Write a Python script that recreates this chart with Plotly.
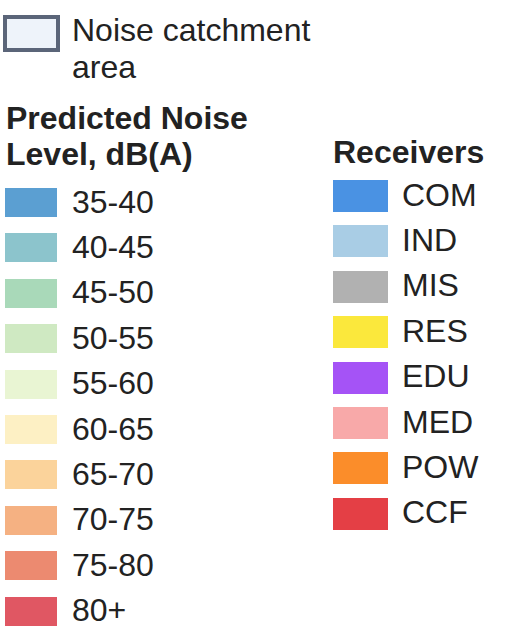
import plotly.graph_objects as go

# ---- data ----
noise_labels = ["35-40", "40-45", "45-50", "50-55", "55-60",
                "60-65", "65-70", "70-75", "75-80", "80+"]
noise_colors = ["#5b9fd2", "#8cc4cc", "#a9d9b9", "#cfe9c2", "#e9f5d3",
                "#fdf0c4", "#fbd39b", "#f5b182", "#ec8a70", "#e05763"]
receiver_labels = ["COM", "IND", "MIS", "RES", "EDU", "MED", "POW", "CCF"]
receiver_colors = ["#4a92e3", "#a9cde5", "#b1b1b1", "#fbe83c",
                   "#a553f6", "#f8a9a9", "#fb8d2a", "#e43f45"]
catchment_lines = ["Noise catchment", "area"]
noise_title_lines = ["Predicted Noise", "Level, dB(A)"]
receiver_title = "Receivers"

# ---- layout helpers ----
W, H = 509, 630
FONT = "Liberation Sans, Arial, sans-serif"
FS = 32
TXT = "#222222"
step = 45.4
noise_y = [202.5 + i * step for i in range(len(noise_labels))]
rec_y = [196 + i * step for i in range(len(receiver_labels))]

fig = go.Figure()

# catchment box
fig.add_trace(go.Bar(orientation="h", y=[33.5], x=[53], base=[5], width=[33],
                     marker=dict(color="#eef3fa", line=dict(color="#5b6579", width=4)),
                     hoverinfo="skip", showlegend=False))
# noise swatches
fig.add_trace(go.Bar(orientation="h", y=noise_y, x=[52] * len(noise_y), base=[5] * len(noise_y),
                     width=[29] * len(noise_y), marker=dict(color=noise_colors, line=dict(width=0)),
                     hoverinfo="skip", showlegend=False))
# receiver swatches
fig.add_trace(go.Bar(orientation="h", y=rec_y, x=[55] * len(rec_y), base=[333] * len(rec_y),
                     width=[32] * len(rec_y), marker=dict(color=receiver_colors, line=dict(width=0)),
                     hoverinfo="skip", showlegend=False))
# labels
fig.add_trace(go.Scatter(x=[72] * len(noise_y), y=[v + 2 for v in noise_y], mode="text", text=noise_labels,
                         textposition="middle right", textfont=dict(family=FONT, size=FS, color=TXT),
                         hoverinfo="skip", showlegend=False))
fig.add_trace(go.Scatter(x=[402] * len(rec_y), y=[v + 1.5 for v in rec_y], mode="text", text=receiver_labels,
                         textposition="middle right", textfont=dict(family=FONT, size=FS, color=TXT),
                         hoverinfo="skip", showlegend=False))


def label(x, y, txt, bold=False):
    fig.add_annotation(x=x, y=y, xref="x", yref="y", text=("<b>%s</b>" % txt) if bold else txt,
                       showarrow=False, xanchor="left", yanchor="middle", align="left",
                       font=dict(family=FONT, size=FS, color=TXT))


label(70, 30, catchment_lines[0])
label(70, 67, catchment_lines[1])
label(4, 118, noise_title_lines[0], bold=True)
label(4, 154, noise_title_lines[1], bold=True)
label(331, 151.5, receiver_title, bold=True)

fig.update_layout(
    width=W, height=H, margin=dict(l=0, r=0, t=0, b=0),
    paper_bgcolor="white", plot_bgcolor="white", bargap=0,
    xaxis=dict(range=[0, W], visible=False, fixedrange=True),
    yaxis=dict(range=[H, 0], visible=False, fixedrange=True),
)
fig.write_html("out.html", config={"displayModeBar": False, "staticPlot": True},
               post_script="document.body.style.margin='0';document.body.style.overflow='hidden';")
